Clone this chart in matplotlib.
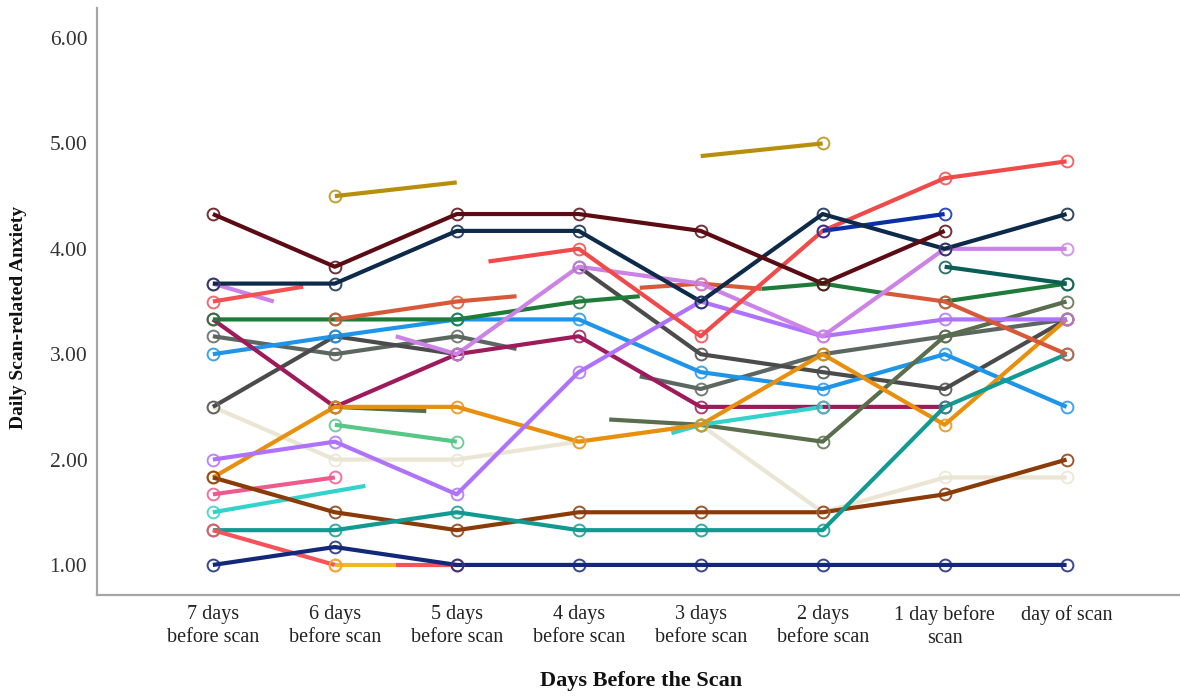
import numpy as np
import matplotlib
matplotlib.use("Agg")
import matplotlib.pyplot as plt

# Day categories along the x axis
day_labels = ["7 days\nbefore scan", "6 days\nbefore scan", "5 days\nbefore scan",
              "4 days\nbefore scan", "3 days\nbefore scan", "2 days\nbefore scan",
              "1 day before\nscan", "day of scan"]
y_ticks = [1.0, 2.0, 3.0, 4.0, 5.0, 6.0]

# Participant trajectories: (day positions, anxiety scores)
cream = ([0, 1, 2, 3, 4, 5, 6, 7], [2.5, 2.0, 2.0, 2.17, 2.33, 1.5, 1.83, 1.83])
gray_green_a = ([0, 1, 2, 2.49], [3.17, 3.0, 3.17, 3.05])
gray_green_b = ([3.5, 4, 5, 6, 7], [2.79, 2.67, 3.0, 3.17, 3.33])
charcoal_a = ([0, 1, 2], [2.5, 3.17, 3.0])
charcoal_b = ([3, 4, 5, 6, 7], [3.83, 3.0, 2.83, 2.67, 3.33])
blue = ([0, 1, 2, 3, 4, 5, 6, 7], [3.0, 3.17, 3.33, 3.33, 2.83, 2.67, 3.0, 2.5])
magenta = ([0, 1, 2, 3, 4, 5, 6], [3.33, 2.5, 3.0, 3.17, 2.5, 2.5, 2.5])
olive_a = ([1, 1.75], [2.5, 2.46])
olive_b = ([3.25, 4, 5, 6, 7], [2.38, 2.33, 2.17, 3.17, 3.5])
turquoise_a = ([0, 1.25], [1.5, 1.75])
turquoise_b = ([3.76, 4, 5], [2.25, 2.33, 2.5])
orange = ([0, 1, 2, 3, 4, 5, 6, 7], [1.83, 2.5, 2.5, 2.17, 2.33, 3.0, 2.33, 3.33])
mint = ([1, 2], [2.33, 2.17])
violet = ([0, 1, 2, 3, 4, 5, 6, 7], [2.0, 2.17, 1.67, 2.83, 3.5, 3.17, 3.33, 3.33])
pink = ([0, 1], [1.67, 1.83])
brown = ([0, 1, 2, 3, 4, 5, 6, 7], [1.83, 1.5, 1.33, 1.5, 1.5, 1.5, 1.67, 2.0])
teal = ([0, 1, 2, 3, 4, 5, 6, 7], [1.33, 1.33, 1.5, 1.33, 1.33, 1.33, 2.5, 3.0])
salmon_a = ([0, 1], [1.33, 1.0])
salmon_b = ([1.5, 2], [1.0, 1.0])
gold_low = ([1, 1.5], [1.0, 1.0])
green_a = ([0, 1, 2, 3, 3.5], [3.33, 3.33, 3.33, 3.5, 3.55])
green_b = ([4.5, 5, 5.5], [3.62, 3.67, 3.58])
green_c = ([6, 7], [3.5, 3.67])
sienna_a = ([1, 2, 2.49], [3.33, 3.5, 3.55])
sienna_b = ([3.5, 4, 4.5], [3.63, 3.67, 3.62])
sienna_c = ([5.5, 6, 7], [3.58, 3.5, 3.0])
orchid_a = ([0, 0.5], [3.67, 3.5])
orchid_b = ([1.5, 2, 3, 4, 5, 6, 7], [3.17, 3.0, 3.83, 3.67, 3.17, 4.0, 4.0])
red_a = ([0, 0.74], [3.5, 3.64])
red_b = ([2.26, 3, 4, 5, 6, 7], [3.88, 4.0, 3.17, 4.17, 4.67, 4.83])
dark_teal = ([6, 7], [3.83, 3.67])
royal_blue = ([5, 6], [4.17, 4.33])
dark_navy = ([0, 1, 2, 3, 4, 5, 6, 7], [3.67, 3.67, 4.17, 4.17, 3.5, 4.33, 4.0, 4.33])
maroon = ([0, 1, 2, 3, 4, 5, 6], [4.33, 3.83, 4.33, 4.33, 4.17, 3.67, 4.17])
gold_a = ([1, 2], [4.5, 4.63])
gold_b = ([4, 5], [4.88, 5.0])
navy = ([0, 1, 2, 3, 4, 5, 6, 7], [1.0, 1.17, 1.0, 1.0, 1.0, 1.0, 1.0, 1.0])

# (trace, colour, indices of points carrying a marker; None = every whole day)
traces = [
    (cream, "#ebe5d3", None),
    (gray_green_a, "#5d6761", None),
    (gray_green_b, "#5d6761", None),
    (charcoal_a, "#4b4b4b", None),
    (charcoal_b, "#4b4b4b", None),
    (blue, "#1f95ea", None),
    (magenta, "#9e1a5a", None),
    (olive_a, "#5a6e4d", None),
    (olive_b, "#5a6e4d", None),
    (turquoise_a, "#33d2ca", None),
    (turquoise_b, "#33d2ca", None),
    (orange, "#e8900e", None),
    (mint, "#57c687", None),
    (violet, "#ae72fc", None),
    (pink, "#ef5a8d", None),
    (brown, "#8a3b08", None),
    (teal, "#119a91", None),
    (salmon_a, "#f7525a", None),
    (salmon_b, "#f7525a", None),
    (gold_low, "#ecbb22", None),
    (green_a, "#1f7b39", None),
    (green_b, "#1f7b39", None),
    (green_c, "#1f7b39", None),
    (sienna_a, "#d8593a", None),
    (sienna_b, "#d8593a", None),
    (sienna_c, "#d8593a", None),
    (orchid_a, "#cc82e6", None),
    (orchid_b, "#cc82e6", None),
    (red_a, "#f25252", None),
    (red_b, "#f04a4a", None),
    (dark_teal, "#0b5e58", None),
    (royal_blue, "#0b2fa6", None),
    (dark_navy, "#0d2a4a", None),
    (maroon, "#5c0b14", None),
    (gold_a, "#b88f0a", [0]),
    (gold_b, "#b88f0a", [1]),
    (navy, "#14287a", None),
]

plt.rcParams["font.family"] = ["Liberation Serif", "DejaVu Serif"]

fig = plt.figure(figsize=(11.8, 6.98), dpi=100)
ax = fig.add_axes([0.0822, 0.1476, 0.9178, 0.8409])

for (xs, ys), color, marks in traces:
    xs = np.asarray(xs, dtype=float)
    ys = np.asarray(ys, dtype=float)
    if marks is None:
        marks = [i for i, x in enumerate(xs) if float(x).is_integer()]
    ax.plot(xs, ys, color=color, lw=3.0, solid_capstyle="butt", zorder=2)
    ax.plot(xs[marks], ys[marks], ls="none", marker="o", ms=8.5, mew=1.4,
            mfc="none", mec=color, alpha=0.85, zorder=3)

ax.set_xlim(-0.95, 7.93)
ax.set_ylim(0.715, 6.285)
ax.set_xticks(np.arange(len(day_labels)))
ax.set_xticklabels(day_labels, fontsize=14.5, color="#222222", linespacing=1.3)
ax.set_yticks(y_ticks)
ax.set_yticklabels([f"{v:.2f}" for v in y_ticks], fontsize=15.5, color="#333333")
ax.tick_params(axis="both", length=0)
ax.tick_params(axis="y", pad=7)
ax.tick_params(axis="x", pad=7)

for side in ("top", "right"):
    ax.spines[side].set_visible(False)
for side in ("left", "bottom"):
    ax.spines[side].set_color("#a6a6a6")
    ax.spines[side].set_linewidth(1.6)

fig.text(0.0155, 0.545, "Daily Scan-related Anxiety", rotation=90, ha="center",
         va="center", fontsize=14, fontweight="bold", color="#111111")
fig.text(0.543, 0.025, "Days Before the Scan", ha="center", va="center",
         fontsize=16, fontweight="bold", color="#111111")

fig.savefig("out.png", dpi=100, facecolor="white")
